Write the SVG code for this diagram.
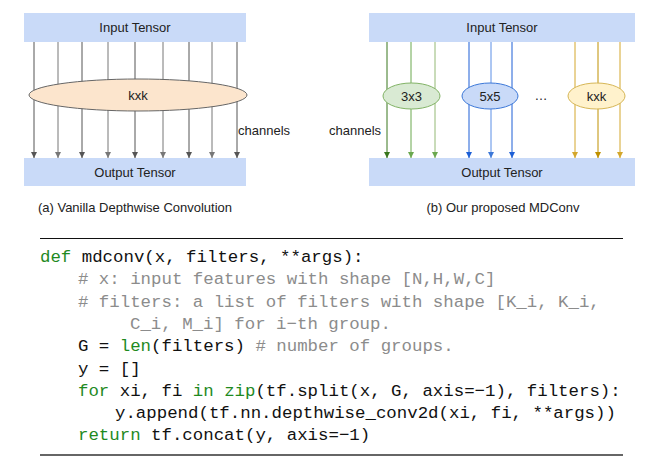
<svg xmlns="http://www.w3.org/2000/svg" width="664" height="464" viewBox="0 0 664 464">
<style>
.box{fill:#c9daf8;}
.lbl{font-family:"Liberation Sans",Arial,sans-serif;font-size:13px;fill:#222;text-anchor:middle;}
.lbll{font-family:"Liberation Sans",Arial,sans-serif;font-size:13px;fill:#222;}
.code{font-family:"Liberation Mono","DejaVu Sans Mono",monospace;font-size:17.4px;fill:#111;white-space:pre;}
.kw{fill:#1f8a1f;}
.cm{fill:#8c8c8c;}
</style>
<rect width="664" height="464" fill="#fff"/>

<g id="left-input"><rect class="box" x="24" y="13" width="222" height="29"/><text class="lbl" x="135" y="32">Input Tensor</text></g>
<g id="left-output"><rect class="box" x="24" y="158" width="222" height="28"/><text class="lbl" x="135" y="177">Output Tensor</text></g>

<g id="right-input"><rect class="box" x="369" y="13" width="266" height="29"/><text class="lbl" x="502" y="32">Input Tensor</text></g>
<g id="right-output"><rect class="box" x="369" y="158" width="266" height="28"/><text class="lbl" x="502" y="177">Output Tensor</text></g>

<g id="connectors">
<g stroke-width="1">
<path d="M34,42V158" stroke="#555"/>
<path d="M58,42V158" stroke="#777"/>
<path d="M82,42V158" stroke="#555"/>
<path d="M108,42V158" stroke="#777"/>
<path d="M135,42V158" stroke="#555"/>
<path d="M163,42V158" stroke="#777"/>
<path d="M189,42V158" stroke="#555"/>
<path d="M212,42V158" stroke="#777"/>
<path d="M237,42V158" stroke="#555"/>
<path d="M387,42V158" stroke="#38761d"/>
<path d="M411,42V158" stroke="#6aa84f"/>
<path d="M435,42V158" stroke="#93b874"/>
<path d="M469,42V158" stroke="#1c5fd6"/>
<path d="M491,42V158" stroke="#5b8ee6"/>
<path d="M512,42V158" stroke="#1c5fd6"/>
<path d="M575,42V158" stroke="#d4a72c"/>
<path d="M598,42V158" stroke="#bf9000"/>
<path d="M620,42V158" stroke="#d4a72c"/>
</g>
<g>
<path d="M31,152h6l-3,6z" fill="#555"/>
<path d="M55,152h6l-3,6z" fill="#777"/>
<path d="M79,152h6l-3,6z" fill="#555"/>
<path d="M105,152h6l-3,6z" fill="#777"/>
<path d="M132,152h6l-3,6z" fill="#555"/>
<path d="M160,152h6l-3,6z" fill="#777"/>
<path d="M186,152h6l-3,6z" fill="#555"/>
<path d="M209,152h6l-3,6z" fill="#777"/>
<path d="M234,152h6l-3,6z" fill="#555"/>
<path d="M384,152h6l-3,6z" fill="#38761d"/>
<path d="M408,152h6l-3,6z" fill="#6aa84f"/>
<path d="M432,152h6l-3,6z" fill="#6aa84f"/>
<path d="M466,152h6l-3,6z" fill="#1c5fd6"/>
<path d="M488,152h6l-3,6z" fill="#3c78d8"/>
<path d="M509,152h6l-3,6z" fill="#1c5fd6"/>
<path d="M572,152h6l-3,6z" fill="#d4a72c"/>
<path d="M595,152h6l-3,6z" fill="#bf9000"/>
<path d="M617,152h6l-3,6z" fill="#d4a72c"/>
</g>
</g>

<g id="kxk-left"><ellipse cx="138" cy="95" rx="109" ry="16" fill="#fce5cd" stroke="#666" stroke-width="1"/><text class="lbl" x="138" y="100">kxk</text></g>
<g id="conv3"><ellipse cx="411.5" cy="96" rx="28.5" ry="13" fill="#d9ead3" stroke="#82b366" stroke-width="1"/><text class="lbl" x="411.5" y="101">3x3</text></g>
<g id="conv5"><ellipse cx="490" cy="96" rx="28" ry="13" fill="#c9daf8" stroke="#3c78d8" stroke-width="1"/><text class="lbl" x="490" y="101">5x5</text></g>
<g id="convk"><ellipse cx="596.5" cy="96" rx="28.5" ry="13" fill="#fff2cc" stroke="#d6b656" stroke-width="1"/><text class="lbl" x="596.5" y="101">kxk</text></g>
<text class="lbl" x="541" y="100">…</text>

<text class="lbll" x="238" y="135">channels</text>
<text class="lbll" x="329" y="135">channels</text>
<text class="lbl" x="135" y="212">(a) Vanilla Depthwise Convolution</text>
<text class="lbl" x="503" y="212">(b) Our proposed MDConv</text>

<g id="code">
<line x1="40" y1="238.5" x2="623" y2="238.5" stroke="#111" stroke-width="1"/>
<line x1="40" y1="455" x2="623" y2="455" stroke="#666" stroke-width="2"/>
<text class="code" x="40" y="262"><tspan class="kw">def</tspan> mdconv(x, filters, **args):</text>
<text class="code cm" x="78" y="284.3"># x: input features with shape [N,H,W,C]</text>
<text class="code cm" x="78" y="306.6"># filters: a list of filters with shape [K_i, K_i,</text>
<text class="code cm" x="130" y="328.9">C_i, M_i] for i−th group.</text>
<text class="code" x="78" y="351.2">G = <tspan class="kw">len</tspan>(filters) <tspan class="cm"># number of groups.</tspan></text>
<text class="code" x="78" y="373.5">y = []</text>
<text class="code" x="78" y="395.8"><tspan class="kw">for</tspan> xi, fi <tspan class="kw">in</tspan> <tspan class="kw">zip</tspan>(tf.split(x, G, axis=−1), filters):</text>
<text class="code" x="115" y="418.1">y.append(tf.nn.depthwise_conv2d(xi, fi, **args))</text>
<text class="code" x="78" y="440.4"><tspan class="kw">return</tspan> tf.concat(y, axis=−1)</text>
</g>
</svg>
